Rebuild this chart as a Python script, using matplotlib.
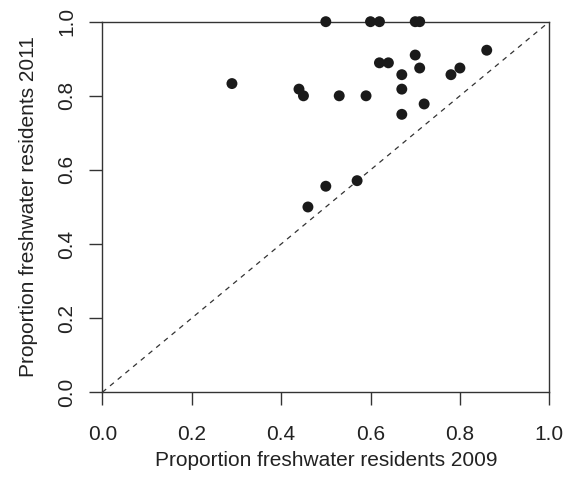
import matplotlib
matplotlib.use("Agg")
import matplotlib.pyplot as plt

# proportion of freshwater residents per group
prop_2009 = [0.50, 0.60, 0.62, 0.70, 0.71,
             0.29, 0.44, 0.45, 0.53, 0.59,
             0.62, 0.64, 0.70, 0.71, 0.67,
             0.67, 0.67, 0.72, 0.78, 0.80,
             0.86, 0.46, 0.50, 0.57]
prop_2011 = [1.00, 1.00, 1.00, 1.00, 1.00,
             0.833, 0.818, 0.80, 0.80, 0.80,
             0.889, 0.889, 0.91, 0.875, 0.857,
             0.818, 0.75, 0.778, 0.857, 0.875,
             0.923, 0.50, 0.556, 0.571]
ticks = [0.0, 0.2, 0.4, 0.6, 0.8, 1.0]
tick_labels = ["0.0", "0.2", "0.4", "0.6", "0.8", "1.0"]

plt.rcParams["font.family"] = ["Liberation Sans", "DejaVu Sans"]
fs = 15.0

fig = plt.figure(figsize=(5.69, 4.84), dpi=100)
ax = fig.add_axes([0.1798, 0.1895, 0.9654 - 0.1798, 0.9552 - 0.1895])

ax.plot([0, 1], [0, 1], linestyle=(0, (4, 4)), color="#333333", lw=0.9)
ax.scatter(prop_2009, prop_2011, s=62, color="#1a1a1a", edgecolors="none",
           zorder=3, clip_on=False)

ax.set_xlim(0, 1)
ax.set_ylim(0, 1)
ax.set_xticks(ticks)
ax.set_xticklabels(tick_labels)
ax.set_yticks(ticks)
ax.set_yticklabels(tick_labels, rotation=90, va="center")

for sp in ax.spines.values():
    sp.set_color("#333333")
    sp.set_linewidth(1.0)
ax.tick_params(direction="out", length=9.4, width=1.0, color="#333333",
               labelsize=fs, labelcolor="#222222")
ax.tick_params(axis="x", pad=14)
ax.tick_params(axis="y", pad=9.5)

ax.set_xlabel("Proportion freshwater residents 2009", fontsize=fs,
              color="#222222", labelpad=5)
ax.set_ylabel("Proportion freshwater residents 2011", fontsize=fs,
              color="#222222", labelpad=14)

fig.savefig("out.png", dpi=100)
